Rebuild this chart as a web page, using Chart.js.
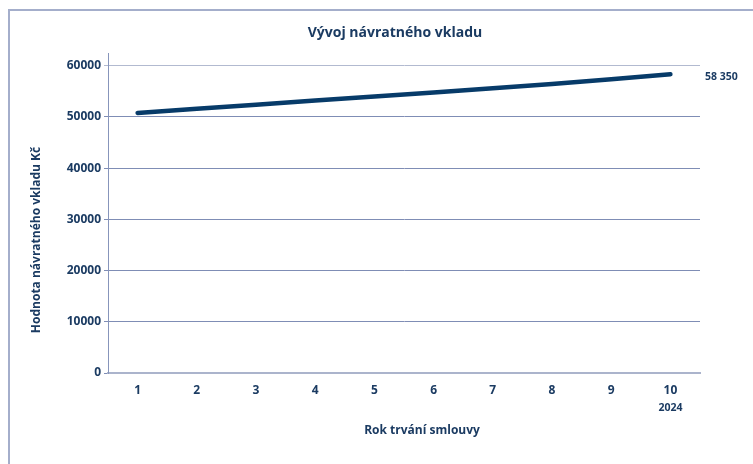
<!DOCTYPE html>
<html><head><meta charset="utf-8">
<script src="https://cdn.jsdelivr.net/npm/chart.js@4/dist/chart.umd.min.js"></script>
<style>
html,body{margin:0;padding:0;background:#fff;}
#wrap{position:relative;width:753px;height:464px;overflow:hidden;background:#fff;}
#frame{position:absolute;left:8px;top:9px;right:-5px;bottom:-5px;border-top:2px solid #a4aecb;border-left:2px solid #a4aecb;}
canvas{position:absolute;left:0;top:0;}
</style></head><body>
<div id="wrap"><div id="frame"></div><canvas id="c" width="753" height="464"></canvas></div>
<script>
// ---- data ----
const categories = ['1','2','3','4','5','6','7','8','9','10'];
const values = [50800, 51600, 52400, 53200, 54000, 54800, 55600, 56450, 57350, 58350];
const yTickValues = [0, 10000, 20000, 30000, 40000, 50000, 60000];
const yMax = 62500;
const chartTitle = 'Vývoj návratného vkladu';
const xTitle = 'Rok trvání smlouvy';
const yTitle = 'Hodnota návratného vkladu Kč';
const lastYearNote = '2024';

// ---- styles ----
const FONT = '"Open Sans", "Noto Sans", sans-serif';
const TXT = '#1b3b62';
const LINE = '#073b69';

function fmtSpace(v){ return String(v).replace(/\B(?=(\d{3})+(?!\d))/g, ' '); }

const textPlugin = {
  id: 'texts',
  afterDraw(chart){
    const ctx = chart.ctx, area = chart.chartArea;
    const x = chart.scales.x, y = chart.scales.y;
    ctx.save();
    ctx.fillStyle = TXT;
    ctx.textBaseline = 'middle';
    // title
    ctx.font = 'bold 14px ' + FONT;
    ctx.textAlign = 'center';
    ctx.fillText(chartTitle, 395, 33);
    // x title
    ctx.font = 'bold 12px ' + FONT;
    ctx.fillText(xTitle, 422, 431);
    // y title
    ctx.save();
    ctx.translate(37, 240);
    ctx.rotate(-Math.PI/2);
    ctx.fillText(yTitle, 0, 0);
    ctx.restore();
    // year note under last category
    ctx.font = 'bold 10.5px ' + FONT;
    ctx.fillText(lastYearNote, x.getPixelForValue(categories.length - 1), 408);
    // last value label
    const last = values[values.length - 1];
    ctx.textAlign = 'left';
    ctx.font = 'bold 10.5px ' + FONT;
    ctx.fillText(fmtSpace(last), area.right + 5, y.getPixelForValue(last) + 3);
    ctx.restore();
  }
};

new Chart(document.getElementById('c'), {
  type: 'line',
  data: {
    labels: categories,
    datasets: [{
      data: values,
      borderColor: LINE,
      borderWidth: 4.5,
      borderCapStyle: 'round',
      borderJoinStyle: 'round',
      pointRadius: 0,
      tension: 0,
      fill: false
    }]
  },
  options: {
    responsive: false,
    animation: false,
    devicePixelRatio: 1,
    layout: { padding: { left: 0, right: 53, top: 53, bottom: 0 } },
    plugins: { legend: { display: false }, tooltip: { enabled: false }, title: { display: false } },
    scales: {
      x: {
        type: 'category',
        offset: true,
        grid: { display: false, drawTicks: false },
        border: { display: true, color: '#abb4cc', width: 2 },
        ticks: { color: TXT, font: { family: FONT, weight: 'bold', size: 12 }, padding: 10, maxRotation: 0, autoSkip: false },
        afterFit(s){ s.height = 91; s.paddingLeft = 0; s.paddingRight = 0; }
      },
      y: {
        min: 0,
        max: yMax,
        afterBuildTicks(s){ s.ticks = yTickValues.map(v => ({ value: v })); },
        grid: {
          color: c => (c.tick && c.tick.value === 60000) ? '#b2bad0' : '#7f8db5',
          lineWidth: 1,
          tickLength: 4,
          drawTicks: true
        },
        border: { display: true, color: '#8795bb', width: 1 },
        ticks: { color: TXT, font: { family: FONT, weight: 'bold', size: 12 }, padding: 3, callback: v => String(v) },
        afterFit(s){ s.width = 108; s.paddingTop = 0; s.paddingBottom = 0; }
      }
    }
  },
  plugins: [textPlugin]
});
</script>
</body></html>
